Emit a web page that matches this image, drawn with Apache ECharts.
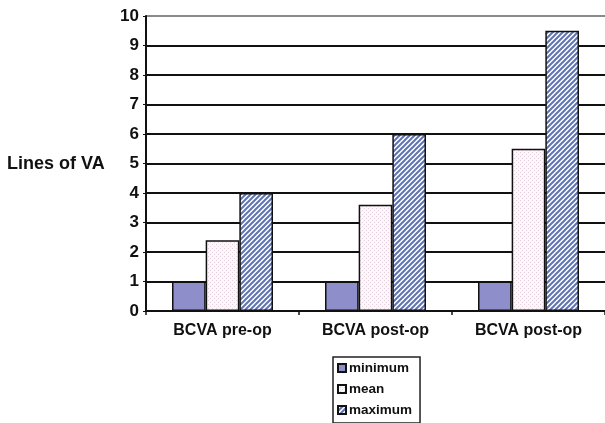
<!DOCTYPE html>
<html><head><meta charset="utf-8">
<script src="https://cdn.jsdelivr.net/npm/echarts@6/dist/echarts.min.js"></script>
<style>html,body{margin:0;padding:0;background:#fff}#c{width:605px;height:423px}</style>
</head><body><div id="c"></div>
<script>
const categories = ['BCVA pre-op', 'BCVA post-op', 'BCVA post-op'];
const minimumValues = [1, 1, 1];
const meanValues = [2.4, 3.6, 5.5];
const maximumValues = [4, 6, 9.5];
const yTicks = [0,1,2,3,4,5,6,7,8,9,10];

function dotPattern() {
  const c = document.createElement('canvas'); c.width = 4; c.height = 4;
  const g = c.getContext('2d');
  g.fillStyle = '#fbf7fa'; g.fillRect(0,0,4,4);
  g.fillStyle = '#e3cfdc'; g.fillRect(0,0,1,1); g.fillRect(2,2,1,1);
  return c;
}
function hatchPattern() {
  const s = 5;
  const c = document.createElement('canvas'); c.width = s; c.height = s;
  const g = c.getContext('2d');
  g.fillStyle = '#ffffff'; g.fillRect(0,0,s,s);
  g.strokeStyle = '#5f74b2'; g.lineWidth = 2;
  g.beginPath();
  g.moveTo(-1, s+1); g.lineTo(s+1, -1);
  g.moveTo(-1, 1); g.lineTo(1, -1);
  g.moveTo(s-1, s+1); g.lineTo(s+1, s-1);
  g.stroke();
  return c;
}

const chart = echarts.init(document.getElementById('c'), null, {renderer: 'canvas'});
const font = '"Liberation Sans", Arial, sans-serif';
const splitColors = yTicks.map((t, i) => i === yTicks.length - 1 ? '#8a8a8a' : '#111');
chart.setOption({
  animation: false,
  backgroundColor: '#fff',
  grid: { left: 146, top: 16, right: -2, bottom: 112 },
  graphic: [{
    type: 'text', left: 7, top: 155,
    style: { text: 'Lines of VA', font: 'bold 18px ' + font, fill: '#111' }
  }],
  legend: {
    orient: 'vertical', left: 333, top: 357, height: 100,
    data: ['minimum', 'mean', 'maximum'],
    icon: 'rect', itemWidth: 8, itemHeight: 8, itemGap: 7,
    borderColor: '#222', borderWidth: 1.5, padding: [4, 8, 6, 4],
    textStyle: { fontFamily: font, fontWeight: 'bold', fontSize: 13.5, color: '#111', padding: [0,0,0,-2] }
  },
  xAxis: {
    type: 'category', data: categories,
    axisLine: { lineStyle: { color: '#111', width: 2 } },
    axisTick: { show: true, length: 4, lineStyle: { color: '#111', width: 1.5 } },
    axisLabel: { fontFamily: font, fontWeight: 'bold', fontSize: 16, color: '#111', margin: 12 }
  },
  yAxis: {
    type: 'value', min: 0, max: 10, interval: 1,
    axisLine: { show: true, lineStyle: { color: '#111', width: 2 } },
    axisTick: { show: true, length: 3, lineStyle: { color: '#111' } },
    axisLabel: { fontFamily: font, fontWeight: 'bold', fontSize: 17, color: '#111', margin: 7 },
    splitLine: { lineStyle: { color: splitColors, width: 2 } }
  },
  series: [
    { name: 'minimum', type: 'bar', data: minimumValues, barGap: '0%', barCategoryGap: '34%',
      itemStyle: { color: '#8e8fca', borderColor: '#111', borderWidth: 1.5 } },
    { name: 'mean', type: 'bar', data: meanValues,
      itemStyle: { color: { image: dotPattern(), repeat: 'repeat' }, borderColor: '#111', borderWidth: 1.5 } },
    { name: 'maximum', type: 'bar', data: maximumValues,
      itemStyle: { color: { image: hatchPattern(), repeat: 'repeat' }, borderColor: '#111', borderWidth: 1.5 } }
  ]
});
</script></body></html>
